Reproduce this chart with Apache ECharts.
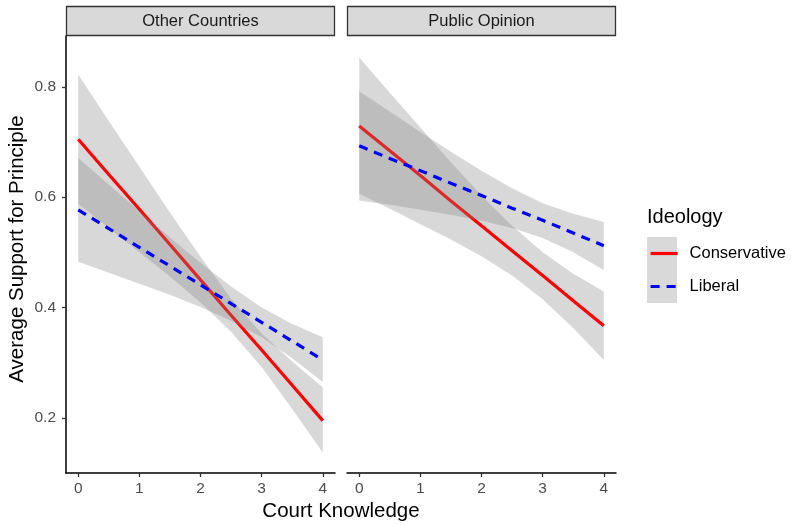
<!DOCTYPE html>
<html><head><meta charset="utf-8">
<script src="https://cdn.jsdelivr.net/npm/echarts@6/dist/echarts.min.js"></script>
<style>html,body{margin:0;padding:0;background:#fff}#c{width:791px;height:525px}</style>
</head><body><div id="c"></div>
<script>
// ---- data ----
const panels = ['Other Countries', 'Public Opinion'];
const groups = ['Conservative', 'Liberal'];
const knowledge = [0, 0.5, 1, 1.5, 2, 2.5, 3, 3.5, 4];
const xTicks = [0, 1, 2, 3, 4];
const yTicks = [0.2, 0.4, 0.6, 0.8];

// Other Countries
const ocConsFit  = [0.705, 0.641, 0.578, 0.514, 0.450, 0.386, 0.323, 0.259, 0.195];
const ocConsLow  = [0.588, 0.544, 0.500, 0.456, 0.409, 0.356, 0.292, 0.216, 0.137];
const ocConsHigh = [0.822, 0.738, 0.655, 0.572, 0.492, 0.416, 0.353, 0.302, 0.255];
const ocLibFit   = [0.577, 0.543, 0.509, 0.475, 0.441, 0.407, 0.373, 0.339, 0.305];
const ocLibLow   = [0.483, 0.463, 0.443, 0.423, 0.401, 0.376, 0.346, 0.308, 0.265];
const ocLibHigh  = [0.671, 0.623, 0.575, 0.527, 0.481, 0.438, 0.400, 0.370, 0.346];
// Public Opinion
const poConsFit  = [0.729, 0.684, 0.639, 0.593, 0.548, 0.503, 0.458, 0.412, 0.367];
const poConsLow  = [0.606, 0.579, 0.551, 0.523, 0.493, 0.458, 0.415, 0.363, 0.305];
const poConsHigh = [0.853, 0.789, 0.726, 0.663, 0.603, 0.548, 0.500, 0.461, 0.429];
const poLibFit   = [0.693, 0.670, 0.648, 0.625, 0.603, 0.580, 0.558, 0.535, 0.512];
const poLibLow   = [0.594, 0.586, 0.577, 0.568, 0.557, 0.544, 0.526, 0.500, 0.468];
const poLibHigh  = [0.792, 0.755, 0.718, 0.682, 0.648, 0.616, 0.589, 0.570, 0.555];

// ---- styling ----
const FONT = 'Liberation Sans, Arial, Helvetica, sans-serif';
const RIBBON = 'rgba(135,135,135,0.32)';
const COLORS = { Conservative: '#FF0000', Liberal: '#0000FF' };
const DASH = { Conservative: 'solid', Liberal: [9, 7] };

function pairs(vals) { return knowledge.map((x, i) => [x, vals[i]]); }

function groupSeries(gi, gIdx, name, fit, low, high) {
  const rows = knowledge.map((x, i) => [x, low[i], high[i]]);
  const zBase = 1 + gIdx * 2;
  return [
    { type: 'custom', name: 'p' + gi + name + '_band', xAxisIndex: gi, yAxisIndex: gi,
      data: rows, silent: true, clip: true, z: zBase,
      encode: { x: 0, y: [1, 2] },
      renderItem: function (params, api) {
        if (params.dataIndex !== 0) return null;
        const pts = [];
        for (let i = 0; i < rows.length; i++) pts.push(api.coord([rows[i][0], rows[i][1]]));
        for (let i = rows.length - 1; i >= 0; i--) pts.push(api.coord([rows[i][0], rows[i][2]]));
        return { type: 'polygon', shape: { points: pts }, style: { fill: RIBBON } };
      } },
    { type: 'line', name: name, xAxisIndex: gi, yAxisIndex: gi, z: zBase + 1,
      data: pairs(fit), symbol: 'none', silent: true,
      itemStyle: { color: COLORS[name] },
      lineStyle: { color: COLORS[name], width: 3.2, type: DASH[name], cap: 'butt' } }
  ];
}

const series = [].concat(
  groupSeries(0, 0, 'Conservative', ocConsFit, ocConsLow, ocConsHigh),
  groupSeries(0, 1, 'Liberal', ocLibFit, ocLibLow, ocLibHigh),
  groupSeries(1, 0, 'Conservative', poConsFit, poConsLow, poConsHigh),
  groupSeries(1, 1, 'Liberal', poLibFit, poLibLow, poLibHigh)
);

const gridTop = 36, gridH = 437;
const grids = [
  { left: 66, top: gridTop, width: 269, height: gridH },
  { left: 347, top: gridTop, width: 269, height: gridH }
];

function xAxis(gi) {
  return {
    type: 'value', gridIndex: gi, min: -0.2, max: 4.2, z: 10,
    splitLine: { show: false },
    axisLine: { show: true, onZero: false, lineStyle: { color: '#000', width: 1.5 } },
    axisTick: { show: true, length: 4, customValues: xTicks, lineStyle: { color: '#333', width: 1.3 } },
    axisLabel: { show: true, customValues: xTicks, margin: 8, color: '#4D4D4D', fontSize: 15.5, fontFamily: FONT }
  };
}
function yAxis(gi) {
  const shown = gi === 0;
  return {
    type: 'value', gridIndex: gi, min: 0.1, max: 0.892, z: 10,
    splitLine: { show: false },
    axisLine: { show: shown, onZero: false, lineStyle: { color: '#000', width: 1.5 } },
    axisTick: { show: shown, length: 4, customValues: yTicks, lineStyle: { color: '#333', width: 1.3 } },
    axisLabel: { show: shown, customValues: yTicks, margin: 10, color: '#4D4D4D', fontSize: 15.5, fontFamily: FONT,
                 formatter: v => v.toFixed(1) }
  };
}

function strip(gi, label) {
  const g = grids[gi];
  return [
    { type: 'rect', shape: { x: g.left + 0.5, y: 6.5, width: g.width - 1, height: 29 },
      style: { fill: '#D9D9D9', stroke: '#333333', lineWidth: 1.3 } },
    { type: 'text', x: g.left + g.width / 2, y: 21,
      style: { text: label, fontSize: 16.5, fontFamily: FONT, fill: '#1A1A1A', align: 'center', verticalAlign: 'middle' } }
  ];
}

const option = {
  animation: false,
  backgroundColor: '#fff',
  grid: grids,
  xAxis: [xAxis(0), xAxis(1)],
  yAxis: [yAxis(0), yAxis(1)],
  legend: {
    data: groups, orient: 'vertical', left: 649, top: 245, z: 20, padding: 0,
    itemWidth: 27, itemHeight: 20, itemGap: 16, selectedMode: false,
    itemStyle: { opacity: 0 },
    lineStyle: { width: 3.2 },
    textStyle: { fontSize: 16.5, fontFamily: FONT, color: '#000', padding: [0, 0, 0, 7] }
  },
  graphic: [].concat(
    strip(0, panels[0]), strip(1, panels[1]),
    [
      { type: 'rect', z: -1, shape: { x: 647, y: 237, width: 30, height: 66 }, style: { fill: '#D9D9D9' } },
      { type: 'text', x: 647, y: 217,
        style: { text: 'Ideology', fontSize: 20, fontFamily: FONT, fill: '#000', align: 'left', verticalAlign: 'middle' } },
      { type: 'text', x: 341, y: 511,
        style: { text: 'Court Knowledge', fontSize: 20.5, fontFamily: FONT, fill: '#000', align: 'center', verticalAlign: 'middle' } },
      { type: 'text', x: 17, y: 249, rotation: Math.PI / 2,
        style: { text: 'Average Support for Principle', fontSize: 20.5, fontFamily: FONT, fill: '#000', align: 'center', verticalAlign: 'middle' } }
    ]
  ),
  series: series
};

const chart = echarts.init(document.getElementById('c'), null, { renderer: 'canvas' });
chart.setOption(option);
</script>
</body></html>
